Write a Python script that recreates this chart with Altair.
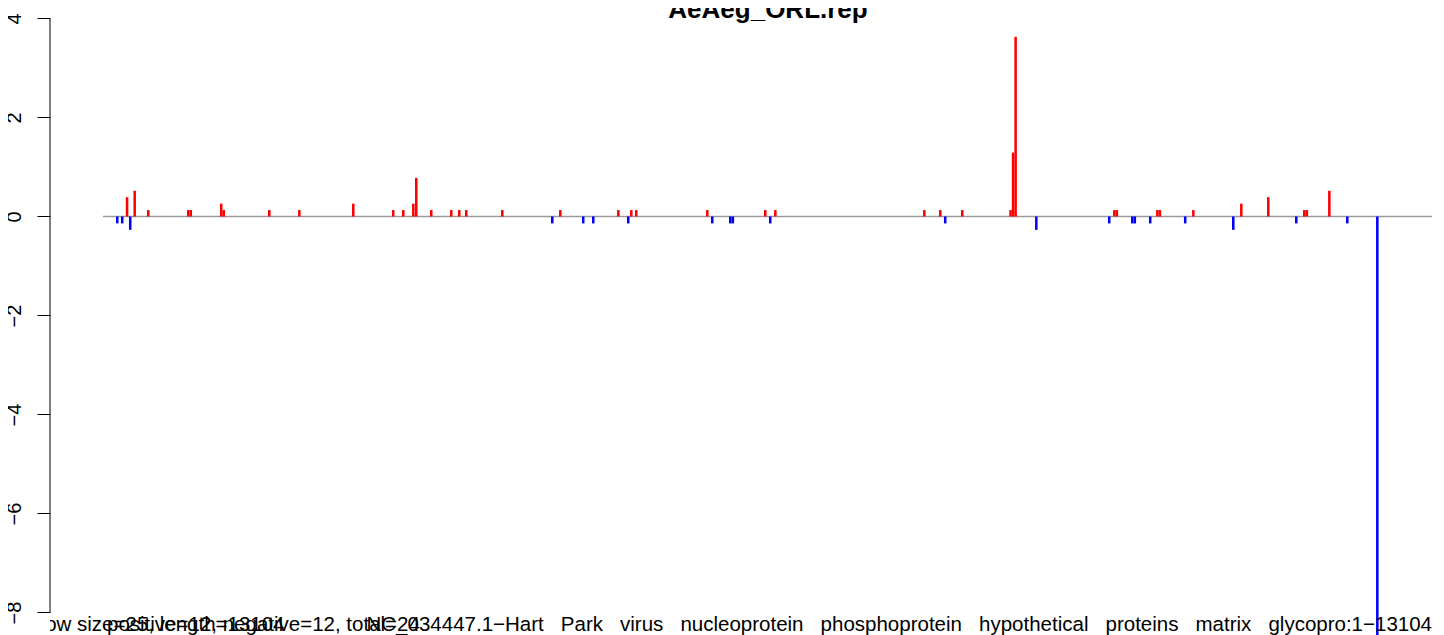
import altair as alt
import pandas as pd

# ---- data ----
window = 25
seq_start, seq_end = 1, 13104
red_start = [226, 301, 435, 829, 854, 1154, 1179, 1628, 1924, 2456, 2850, 2949, 3048, 3077,
             3225, 3422, 3501, 3570, 3925, 4497, 5069, 5197, 5246, 5946, 6518, 6617, 8086,
             8243, 8460, 8936, 8961, 8986, 9959, 9984, 10383, 10408, 10738, 11211, 11477,
             11832, 11857, 12079]
red_value = [0.39, 0.52, 0.13, 0.13, 0.13, 0.26, 0.13, 0.13, 0.13, 0.26, 0.13, 0.13, 0.26, 0.78,
             0.13, 0.13, 0.13, 0.13, 0.13, 0.13, 0.13, 0.13, 0.13, 0.13, 0.13, 0.13, 0.13,
             0.13, 0.13, 0.13, 1.29, 3.63, 0.13, 0.13, 0.13, 0.13, 0.13, 0.26, 0.39,
             0.13, 0.13, 0.52]
blue_start = [129, 178, 257, 4418, 4723, 4822, 5167, 5995, 6173, 6198, 6567, 8292, 9190, 9909,
              10136, 10161, 10313, 10658, 11132, 11753, 12256, 12552]
blue_value = [-0.14, -0.14, -0.27, -0.14, -0.14, -0.14, -0.14, -0.14, -0.14, -0.14, -0.14, -0.14,
              -0.27, -0.14, -0.14, -0.14, -0.14, -0.14, -0.27, -0.14, -0.14, -8.6]
y_ticks = [-8, -6, -4, -2, 0, 2, 4]
title_text = "AeAeg_ORL.rep"
sub_a = "window size=25, length=13104"
sub_b = "positive=12, negative=12, total=24"
nb = "\u00a0"
words = ["NC_034447.1\u2212Hart", "Park", "virus", "nucleoprotein", "phosphoprotein",
         "hypothetical", "proteins", "matrix", "glycopro:1\u221213104"]
sub_c = (" " + nb * 2).join(words)

FONT = "Liberation Sans"

bars = pd.DataFrame({
    "start": red_start + blue_start,
    "value": red_value + blue_value,
    "strand": ["positive"] * len(red_start) + ["negative"] * len(blue_start),
})
bars["end"] = bars["start"] + window
bars["base"] = 0.0

xs = alt.Scale(domain=[-521.5, 13143], nice=False, zero=False)
ys = alt.Scale(domain=[-8.455, 4.212], nice=False, zero=False)

yaxis = alt.Axis(values=y_ticks, format="d", domain=False, ticks=True, tickSize=13,
                 tickColor="black", tickWidth=1, labelAngle=-90, labelAlign="center",
                 labelBaseline="alphabetic", labelPadding=17, labelFontSize=20,
                 labelFont=FONT, labelColor="black", grid=False, title=None,
                 labelFlush=False, labelOverlap=False)

baseline = alt.Chart(pd.DataFrame({"x": [seq_start], "x2": [seq_end], "y": [0]})).mark_rule(
    color="#9a9a9a", strokeWidth=1.5
).encode(
    x=alt.X("x:Q", scale=xs, axis=None), x2="x2:Q",
    y=alt.Y("y:Q", scale=ys, axis=yaxis),
)

axis_line = alt.Chart(pd.DataFrame({"y": [min(y_ticks)], "y2": [max(y_ticks)]})).mark_rule(
    color="black", strokeWidth=1
).encode(x=alt.value(0), y=alt.Y("y:Q", scale=ys), y2="y2:Q")

bar_layer = alt.Chart(bars).mark_rect(clip=True).encode(
    x=alt.X("start:Q", scale=xs, axis=None), x2="end:Q",
    y=alt.Y("value:Q", scale=ys), y2="base:Q",
    color=alt.Color("strand:N", scale=alt.Scale(domain=["positive", "negative"],
                                                range=["#ff0000", "#0000ff"]), legend=None),
)

title = alt.Chart(pd.DataFrame({"t": [title_text]})).mark_text(
    font=FONT, fontSize=26, fontWeight="bold", align="center", baseline="alphabetic", color="black"
).encode(text="t:N", x=alt.value(718), y=alt.value(10))

def sub(text, xpos, align):
    return alt.Chart(pd.DataFrame({"t": [text]})).mark_text(
        font=FONT, fontSize=20.5, align=align, baseline="alphabetic", color="black", clip=True
    ).encode(text="t:N", x=alt.value(xpos), y=alt.value(623))

chart = alt.layer(
    baseline, bar_layer, axis_line, title,
    sub(sub_a, -47, "left"), sub(sub_b, 57, "left"), sub(sub_c, 1382, "right"),
).properties(
    width=1386, height=627,
    autosize=alt.AutoSizeParams(type="none"),
    padding={"left": 42, "top": 0, "right": 0, "bottom": 0},
).configure_view(stroke=None)

chart.save("out.html", embed_options={"renderer": "svg", "actions": False})
